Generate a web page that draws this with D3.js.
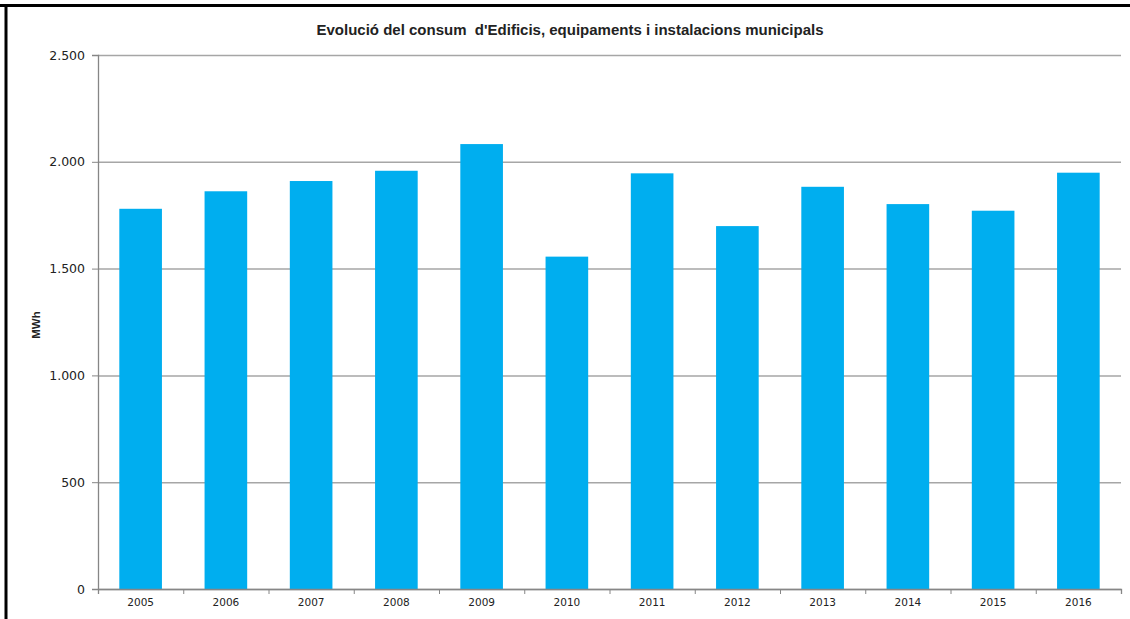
<!DOCTYPE html>
<html>
<head>
<meta charset="utf-8">
<script src="https://cdn.jsdelivr.net/npm/d3@7"></script>
<style>
  html, body { margin: 0; padding: 0; background: #fff; }
  svg { display: block; }
</style>
</head>
<body>
<script>
const years = ["2005", "2006", "2007", "2008", "2009", "2010", "2011", "2012", "2013", "2014", "2015", "2016"];
const consum = [1780, 1862, 1910, 1958, 2083, 1556, 1946, 1699, 1883, 1802, 1771, 1949];
const yTicks = [0, 500, 1000, 1500, 2000, 2500];
const title = "Evolució del consum  d'Edificis, equipaments i instalacions municipals";
const yLabel = "MWh";

const width = 1130, height = 619;
const plotLeft = 98, plotRight = 1121, plotTop = 55, plotBottom = 589;

const svg = d3.select("body")
    .append("svg")
    .attr("width", width)
    .attr("height", height);

// black frame (top + left), like the cropped screenshot
svg.append("line")
    .attr("x1", 0).attr("x2", width)
    .attr("y1", 5.5).attr("y2", 5.5)
    .attr("stroke", "#000").attr("stroke-width", 3);
svg.append("line")
    .attr("x1", 6).attr("x2", 6)
    .attr("y1", 4).attr("y2", height)
    .attr("stroke", "#000").attr("stroke-width", 3);

svg.append("text")
    .attr("x", 570)
    .attr("y", 35)
    .attr("text-anchor", "middle")
    .style("font-family", "'Liberation Sans', Arial, sans-serif")
    .style("font-size", "15px")
    .style("font-weight", "bold")
    .style("white-space", "pre")
    .attr("fill", "#222")
    .text(title);

const x = d3.scaleBand()
    .domain(years)
    .range([plotLeft, plotRight])
    .paddingInner(0.5)
    .paddingOuter(0.25);

const y = d3.scaleLinear()
    .domain([0, 2500])
    .range([plotBottom, plotTop]);

const fmt = d3.formatLocale({decimal: ",", thousands: ".", grouping: [3], currency: ["", "€"]}).format(",d");

// gridlines
svg.append("g")
    .attr("transform", `translate(${plotLeft},0)`)
    .call(d3.axisLeft(y).tickValues(yTicks).tickSize(-(plotRight - plotLeft)).tickFormat(""))
    .call(g => g.select(".domain").remove())
    .call(g => g.selectAll("line").attr("stroke", "#a6a6a6").attr("stroke-width", 1.5));

// bars
svg.selectAll("rect.bar")
    .data(consum)
    .enter()
    .append("rect")
    .attr("class", "bar")
    .attr("x", (d, i) => x(years[i]))
    .attr("y", d => y(d))
    .attr("width", x.bandwidth())
    .attr("height", d => y(0) - y(d))
    .attr("fill", "#00aeef");

// y axis with labels
svg.append("g")
    .attr("transform", `translate(${plotLeft},0)`)
    .call(d3.axisLeft(y).tickValues(yTicks).tickSize(6).tickPadding(7).tickFormat(fmt))
    .call(g => g.select(".domain").attr("stroke", "#868686").attr("stroke-width", 1.3))
    .call(g => g.selectAll("line").attr("stroke", "#868686"))
    .call(g => g.selectAll("text")
        .style("font-family", "'DejaVu Sans', sans-serif")
        .style("font-size", "12.5px")
        .attr("fill", "#222"));

// x axis: ticks at band boundaries
const xb = d3.scaleLinear().domain([0, years.length]).range([plotLeft, plotRight]);
svg.append("g")
    .attr("transform", `translate(0,${plotBottom})`)
    .call(d3.axisBottom(xb).tickValues(d3.range(years.length + 1)).tickSize(5).tickFormat(""))
    .call(g => g.select(".domain").attr("stroke", "#868686").attr("stroke-width", 1.3))
    .call(g => g.selectAll("line").attr("stroke", "#868686"));

// x labels
svg.append("g")
    .attr("transform", `translate(0,${plotBottom})`)
    .call(d3.axisBottom(x).tickSize(0).tickPadding(10))
    .call(g => g.select(".domain").remove())
    .call(g => g.selectAll("text")
        .style("font-family", "'DejaVu Sans', sans-serif")
        .style("font-size", "10.5px")
        .attr("fill", "#222"));

svg.append("text")
    .attr("transform", "translate(40,325) rotate(-90)")
    .attr("text-anchor", "middle")
    .style("font-family", "'Liberation Sans', Arial, sans-serif")
    .style("font-size", "11.5px")
    .style("font-weight", "bold")
    .attr("fill", "#222")
    .text(yLabel);
</script>
</body>
</html>
